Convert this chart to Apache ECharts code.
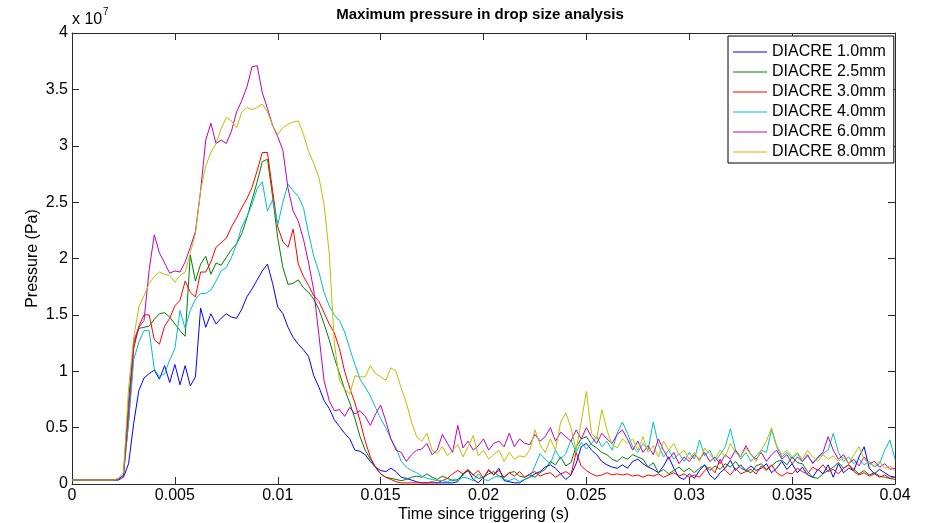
<!DOCTYPE html>
<html><head><meta charset="utf-8">
<script src="https://cdn.jsdelivr.net/npm/echarts@6/dist/echarts.min.js"></script>
<style>html,body{margin:0;padding:0;background:#fff}#c{width:926px;height:523px}</style>
</head><body><div id="c"></div>
<script>
// Time since triggering (s): samples every 0.25 ms from 0 to 0.04 s (161 samples)
const timeStep = 0.00025;
const sampleCount = 161;
const time = Array.from({length: sampleCount}, (_, i) => +(i * timeStep).toFixed(5));

const xTickValues = [0, 0.005, 0.01, 0.015, 0.02, 0.025, 0.03, 0.035, 0.04];
const yTickValues = [0, 0.5, 1, 1.5, 2, 2.5, 3, 3.5, 4];

const seriesNames = ['DIACRE 1.0mm','DIACRE 2.5mm','DIACRE 3.0mm','DIACRE 4.0mm','DIACRE 6.0mm','DIACRE 8.0mm'];

// Pressure in units of 1e7 Pa
const d1_0 = [
.035,.035,.035,.035,.035,.035,.035,.035,.035,.035,
.06,.18,.54,.83,.94,.98,1.01,.93,1.05,.90,
1.06,.88,1.05,.87,.95,1.56,1.39,1.51,1.42,1.47,
1.51,1.48,1.47,1.55,1.66,1.73,1.81,1.89,1.95,1.78,
1.57,1.51,1.39,1.30,1.24,1.19,1.13,.96,.86,.74,
.67,.57,.51,.45,.40,.30,.29,.26,.20,.15,
.12,.11,.14,.11,.06,.05,.035,.02,.01,.01,
.01,.01,.01,.01,.01,.02,.09,.12,.04,.01,
.06,.12,.08,.14,.03,.02,.01,.01,.04,.06,
.09,.11,.15,.17,.14,.09,.04,.08,.18,.33,
.36,.30,.26,.20,.17,.15,.14,.17,.14,.20,
.22,.18,.15,.13,.10,.16,.24,.14,.06,.04,
.09,.05,.12,.17,.08,.04,.10,.14,.21,.12,
.17,.12,.16,.12,.14,.18,.10,.14,.20,.13,
.18,.10,.15,.08,.06,.13,.09,.17,.06,.18,
.10,.14,.12,.24,.33,.14,.09,.13,.10,.07,
.06];

const d2_5 = [
.035,.035,.035,.035,.035,.035,.035,.035,.035,.04,
.08,.74,1.24,1.38,1.39,1.40,1.46,1.51,1.52,1.48,
1.42,1.36,1.31,2.03,1.80,1.95,2.02,1.86,1.96,1.94,
2.01,2.08,2.13,2.22,2.36,2.52,2.68,2.86,2.88,2.55,
2.18,1.92,1.77,1.78,1.81,1.74,1.70,1.64,1.55,1.42,
1.28,1.12,.98,.84,.72,.58,.42,.30,.22,.15,
.09,.06,.05,.04,.03,.04,.06,.07,.06,.09,
.06,.04,.07,.05,.03,.04,.08,.12,.08,.05,
.06,.09,.11,.07,.06,.10,.11,.07,.06,.08,
.06,.10,.13,.20,.17,.24,.16,.19,.33,.40,
.42,.35,.32,.28,.26,.22,.20,.24,.22,.26,
.24,.22,.15,.19,.10,.13,.09,.12,.15,.11,
.14,.10,.14,.17,.12,.16,.13,.18,.15,.20,
.14,.12,.10,.16,.18,.13,.16,.20,.21,.17,
.24,.19,.18,.11,.06,.05,.09,.12,.15,.19,
.14,.17,.13,.09,.12,.08,.10,.07,.06,.05,
.04];

const d3_0 = [
.035,.035,.035,.035,.035,.035,.035,.035,.035,.04,
.08,.55,1.20,1.40,1.50,1.50,1.28,1.24,1.40,1.47,
1.58,1.63,1.80,1.70,1.66,1.88,1.88,1.97,2.10,2.14,
2.18,2.28,2.36,2.45,2.53,2.63,2.78,2.94,2.94,2.60,
2.28,2.15,2.10,2.26,1.95,1.84,1.76,1.67,1.62,1.52,
1.42,1.34,1.20,1.00,.85,.72,.56,.38,.24,.15,
.09,.06,.04,.02,.01,.01,.01,.01,.01,.01,
.02,.01,.03,.05,.09,.12,.09,.13,.08,.12,
.05,.13,.08,.12,.06,.10,.07,.11,.06,.09,
.11,.07,.09,.10,.06,.09,.11,.08,.28,.16,
.12,.09,.07,.08,.10,.08,.09,.08,.09,.07,
.08,.06,.08,.07,.09,.06,.08,.10,.07,.09,
.06,.08,.06,.12,.15,.10,.22,.12,.08,.14,
.09,.11,.13,.09,.16,.12,.17,.10,.07,.10,
.09,.14,.11,.09,.15,.12,.17,.11,.13,.09,
.14,.17,.11,.08,.10,.07,.09,.06,.08,.05,
.06];

const d4_0 = [
.035,.035,.035,.035,.035,.035,.035,.035,.035,.04,
.08,.55,1.10,1.26,1.36,1.36,1.02,.95,.98,1.10,
1.20,1.54,1.38,1.54,1.64,1.69,1.69,1.72,1.80,1.89,
1.92,2.01,2.13,2.28,2.37,2.48,2.62,2.68,2.42,2.52,
2.30,2.50,2.66,2.60,2.55,2.45,2.22,2.02,1.88,1.70,
1.58,1.50,1.45,1.35,1.20,1.06,.93,.86,.78,.68,
.58,.50,.40,.32,.20,.15,.12,.10,.07,.05,
.04,.03,.03,.02,.04,.03,.06,.05,.03,.09,
.04,.03,.06,.07,.04,.03,.05,.02,.04,.06,
.16,.27,.22,.18,.30,.22,.27,.39,.28,.37,
.31,.36,.42,.33,.38,.30,.45,.55,.45,.33,
.28,.36,.30,.55,.35,.24,.30,.22,.27,.20,
.28,.22,.39,.25,.30,.20,.26,.33,.49,.30,
.22,.28,.20,.25,.30,.28,.48,.33,.24,.28,
.22,.27,.20,.25,.19,.23,.27,.30,.45,.28,
.20,.24,.18,.22,.17,.20,.15,.18,.30,.39,
.22];

const d6_0 = [
.035,.035,.035,.035,.035,.035,.035,.035,.035,.045,
.08,.65,1.27,1.39,1.45,1.90,2.21,2.05,1.96,1.87,
1.89,1.88,1.97,2.10,2.24,2.60,3.05,3.20,3.02,3.05,
3.02,3.13,3.30,3.40,3.52,3.70,3.71,3.47,3.33,3.18,
3.08,2.96,2.62,2.42,2.33,2.17,1.96,1.72,1.32,.92,
.74,.65,.66,.60,.68,.62,.65,.60,.52,.62,
.70,.56,.40,.30,.28,.20,.26,.30,.31,.36,
.26,.30,.44,.36,.28,.52,.32,.38,.30,.34,
.40,.30,.36,.38,.33,.45,.33,.40,.36,.35,
.44,.38,.42,.50,.38,.46,.42,.38,.48,.40,
.50,.42,.36,.45,.40,.36,.44,.48,.40,.30,
.38,.28,.34,.26,.40,.30,.22,.28,.18,.24,
.20,.26,.22,.28,.20,.24,.18,.26,.22,.30,
.24,.34,.26,.22,.28,.20,.26,.30,.22,.26,
.18,.24,.20,.26,.18,.24,.28,.42,.30,.22,
.26,.18,.22,.16,.24,.18,.20,.15,.18,.13,
.14];

const d8_0 = [
.035,.035,.035,.035,.035,.035,.035,.035,.035,.05,
.10,.85,1.30,1.57,1.67,1.78,1.84,1.88,1.86,1.85,
1.79,1.85,1.88,2.05,2.22,2.60,2.82,2.94,3.02,3.15,
3.25,3.22,3.16,3.30,3.34,3.32,3.34,3.37,3.30,3.18,
3.10,3.16,3.19,3.21,3.22,3.10,2.95,2.84,2.72,2.48,
2.05,1.25,.92,.84,.80,.96,.95,.95,1.05,.98,
.95,.92,1.03,1.00,.85,.72,.55,.42,.38,.45,
.30,.27,.33,.25,.30,.35,.24,.33,.43,.25,
.30,.22,.26,.30,.20,.28,.22,.25,.24,.30,
.48,.35,.28,.40,.30,.55,.63,.50,.30,.55,
.82,.45,.40,.66,.48,.35,.32,.40,.36,.40,
.30,.42,.28,.34,.24,.38,.30,.36,.26,.30,
.22,.28,.20,.32,.26,.22,.30,.24,.36,.28,
.24,.32,.26,.20,.30,.38,.50,.34,.26,.30,
.24,.28,.22,.30,.24,.20,.26,.22,.25,.20,
.24,.18,.26,.33,.22,.18,.16,.20,.14,.16,
.12];

const seriesValues = [d1_0, d2_5, d3_0, d4_0, d6_0, d8_0];
const seriesColors = ['#0000ff','#008000','#ff0000','#00bfbf','#bf00bf','#bfbf00'];

const FONT = 'Liberation Sans, Arial, Helvetica, sans-serif';
const AX = '#2a2a2a';

const chart = echarts.init(document.getElementById('c'), null, {renderer: 'canvas'});

const fmt = v => String(+(+v).toFixed(4));

chart.setOption({
  animation: false,
  backgroundColor: '#fff',
  title: {
    text: 'Maximum pressure in drop size analysis',
    left: 480, top: 7, textAlign: 'center', padding: 0,
    textStyle: {fontSize: 15, fontWeight: 'bold', color: '#000', fontFamily: FONT}
  },
  graphic: [
    {type: 'text', left: 72, top: 12, style: {text: 'x 10', font: '16px ' + FONT, fill: '#000'}},
    {type: 'text', left: 103, top: 7, style: {text: '7', font: '10px ' + FONT, fill: '#000'}}
  ],
  legend: {
    orient: 'vertical', left: 728, top: 36,
    padding: [6, 8, 1, 5],
    backgroundColor: '#fff', borderColor: '#000', borderWidth: 1, borderRadius: 0,
    icon: 'rect', itemWidth: 34, itemHeight: 1, itemGap: 0,
    textStyle: {fontSize: 16, color: '#000', fontFamily: FONT, lineHeight: 20},
    data: seriesNames
  },
  grid: {left: 72, right: 31, top: 33, bottom: 39, containLabel: false, outerBoundsMode: 'none'},
  xAxis: [
    {
      type: 'value', gridIndex: 0, position: 'bottom',
      min: xTickValues[0], max: xTickValues[xTickValues.length - 1], interval: xTickValues[1] - xTickValues[0],
      axisLine: {show: true, onZero: false, lineStyle: {color: AX, width: 1}},
      axisTick: {show: true, inside: true, length: 7, lineStyle: {color: AX}},
      axisLabel: {show: true, margin: 4, fontSize: 16, color: '#000', fontFamily: FONT, formatter: fmt, showMinLabel: true, showMaxLabel: true},
      splitLine: {show: false},
      name: 'Time since triggering (s)', nameLocation: 'middle', nameGap: 23, nameMoveOverlap: false,
      nameTextStyle: {fontSize: 16, color: '#000', fontFamily: FONT}
    },
    {
      type: 'value', gridIndex: 0, position: 'top',
      min: xTickValues[0], max: xTickValues[xTickValues.length - 1], interval: xTickValues[1] - xTickValues[0],
      axisLine: {show: true, onZero: false, lineStyle: {color: AX, width: 1}},
      axisTick: {show: true, inside: true, length: 7, lineStyle: {color: AX}},
      axisLabel: {show: false}, splitLine: {show: false}
    }
  ],
  yAxis: [
    {
      type: 'value', gridIndex: 0, position: 'left',
      min: yTickValues[0], max: yTickValues[yTickValues.length - 1], interval: yTickValues[1] - yTickValues[0],
      axisLine: {show: true, onZero: false, lineStyle: {color: AX, width: 1}},
      axisTick: {show: true, inside: true, length: 7, lineStyle: {color: AX}},
      axisLabel: {show: true, margin: 4, fontSize: 16, color: '#000', fontFamily: FONT, formatter: fmt, showMinLabel: true, showMaxLabel: true},
      splitLine: {show: false},
      name: 'Pressure (Pa)', nameLocation: 'middle', nameGap: 31, nameRotate: 90, nameMoveOverlap: false,
      nameTextStyle: {fontSize: 16, color: '#000', fontFamily: FONT}
    },
    {
      type: 'value', gridIndex: 0, position: 'right',
      min: yTickValues[0], max: yTickValues[yTickValues.length - 1], interval: yTickValues[1] - yTickValues[0],
      axisLine: {show: true, onZero: false, lineStyle: {color: AX, width: 1}},
      axisTick: {show: true, inside: true, length: 7, lineStyle: {color: AX}},
      axisLabel: {show: false}, splitLine: {show: false}
    }
  ],
  series: seriesNames.map((name, k) => ({
    type: 'line', name: name, xAxisIndex: 0, yAxisIndex: 0,
    data: time.map((t, i) => [t, seriesValues[k][i]]),
    symbol: 'none', showSymbol: false, smooth: false,
    lineStyle: {width: 1, color: seriesColors[k]},
    itemStyle: {color: seriesColors[k]},
    emphasis: {disabled: true}
  }))
});
</script>
</body></html>
